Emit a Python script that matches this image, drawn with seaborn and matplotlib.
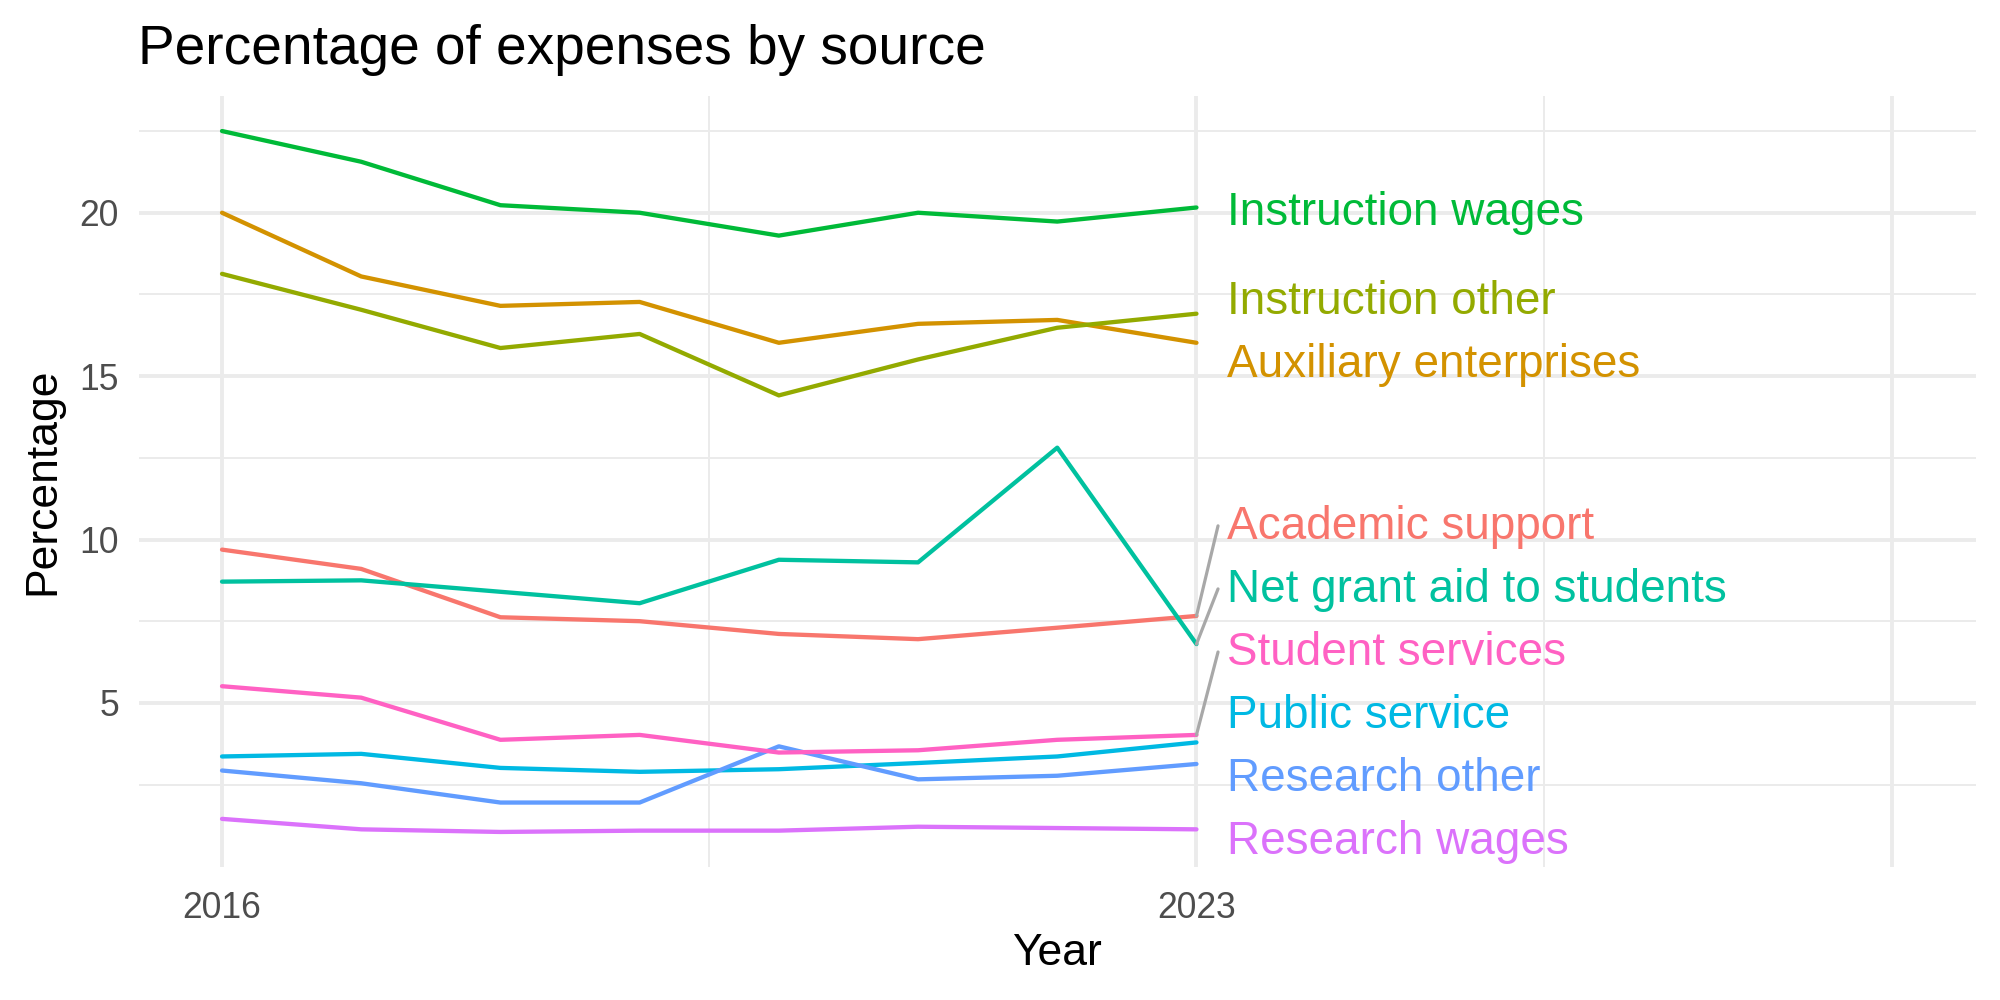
import numpy as np
import pandas as pd
import seaborn as sns
import matplotlib
matplotlib.use("Agg")
import matplotlib.pyplot as plt

# values (percent of expenses)
years = [2016, 2017, 2018, 2019, 2020, 2021, 2022, 2023]

sources = ["Academic support", "Auxiliary enterprises", "Instruction other",
           "Instruction wages", "Net grant aid to students", "Public service",
           "Research other", "Research wages", "Student services"]

academic_support = [9.69, 9.10, 7.62, 7.50, 7.11, 6.95, 7.30, 7.66]
auxiliary_enterprises = [20.00, 18.05, 17.15, 17.27, 16.02, 16.60, 16.72, 16.02]
instruction_other = [18.13, 17.03, 15.86, 16.29, 14.41, 15.51, 16.48, 16.91]
instruction_wages = [22.50, 21.56, 20.23, 20.00, 19.30, 20.00, 19.73, 20.16]
net_grant_aid = [8.71, 8.75, 8.40, 8.05, 9.38, 9.30, 12.81, 6.80]
public_service = [3.36, 3.44, 3.01, 2.89, 2.97, 3.16, 3.36, 3.79]
research_other = [2.93, 2.54, 1.95, 1.95, 3.67, 2.66, 2.77, 3.13]
research_wages = [1.45, 1.13, 1.05, 1.09, 1.09, 1.21, 1.17, 1.13]
student_services = [5.51, 5.16, 3.87, 4.02, 3.48, 3.55, 3.87, 4.02]

x_breaks = [2016, 2023, 2028]
x_break_labels = ["2016", "2023", ""]
y_breaks = [5, 10, 15, 20]

# ggplot default hue palette for 9 levels
colors = ["#F8766D", "#D39200", "#93AA00", "#00BA38", "#00C19F",
          "#00B9E3", "#619CFF", "#DB72FB", "#FF61C3"]

series = [academic_support, auxiliary_enterprises, instruction_other,
          instruction_wages, net_grant_aid, public_service,
          research_other, research_wages, student_services]

df = pd.DataFrame({
    "Year": np.tile(years, len(sources)),
    "Percentage": np.concatenate(series),
    "Source": np.repeat(sources, len(years)),
})
palette = dict(zip(sources, colors))

sns.set_theme(style="white")
plt.rcParams["font.family"] = ["Liberation Sans", "DejaVu Sans"]

fig = plt.figure(figsize=(10, 5), dpi=200)
ax = fig.add_axes([0.06925, 0.133, 0.91875, 0.771])

grid_col = "#EBEBEB"
ax.set_axisbelow(True)

sns.lineplot(data=df, x="Year", y="Percentage", hue="Source",
             hue_order=sources, palette=palette, linewidth=1.55,
             legend=False, ax=ax)

# x axis runs well past the data to leave room for the labels
span = x_breaks[-1] - x_breaks[0]
ax.set_xlim(x_breaks[0] - 0.05 * span, x_breaks[-1] + 0.05 * span)
ax.set_xticks(x_breaks)
ax.set_xticklabels(x_break_labels)
ax.set_xticks([(a + b) / 2 for a, b in zip(x_breaks[:-1], x_breaks[1:])], minor=True)
ax.set_yticks(y_breaks)
ax.set_yticks([2.5, 7.5, 12.5, 17.5, 22.5], minor=True)

ax.grid(which="major", color=grid_col, linewidth=1.4)
ax.grid(which="minor", color=grid_col, linewidth=0.7)
for s in ax.spines.values():
    s.set_visible(False)
ax.tick_params(which="both", length=0)
ax.tick_params(axis="x", pad=8.5, labelsize=12.8, labelcolor="#4D4D4D")
ax.tick_params(axis="y", pad=7, labelsize=12.8, labelcolor="#4D4D4D")

ax.set_xlabel("Year", fontsize=16, color="black")
ax.set_ylabel("Percentage", fontsize=16, color="black")
ax.xaxis.set_label_coords(0.5, -0.085)
ax.yaxis.set_label_coords(-0.041, 0.5)
ax.set_title("Percentage of expenses by source", loc="left", fontsize=19.8,
             pad=11.5, color="black")


# simple repel: push overlapping labels apart, keep them inside the panel
def spread_labels(values, gap, lo, hi, n_iter=500):
    order = np.argsort(values)
    y = np.asarray(values, dtype=float)[order]
    for _ in range(n_iter):
        for i in range(len(y) - 1):
            d = y[i + 1] - y[i]
            if d < gap:
                shift = (gap - d) / 2
                y[i] -= shift
                y[i + 1] += shift
        y = np.clip(y, lo, hi)
    out = np.empty_like(y)
    out[order] = y
    return out


ylo, yhi = ax.get_ylim()
last_year = years[-1]
last_vals = [s[-1] for s in series]
label_y = spread_labels(last_vals, gap=1.93, lo=ylo + 0.92, hi=yhi - 0.92)

for name, col, yv, ly in zip(sources, colors, last_vals, label_y):
    ax.text(last_year + 0.22, ly, name, color=col, fontsize=16.5,
            ha="left", va="center_baseline", zorder=5)
    if abs(ly - yv) > 1.2:
        ax.plot([last_year, last_year + 0.155], [yv, ly - 0.13],
                color="#A8A8A8", linewidth=1.15, zorder=6)

fig.savefig("out.png", dpi=200)
